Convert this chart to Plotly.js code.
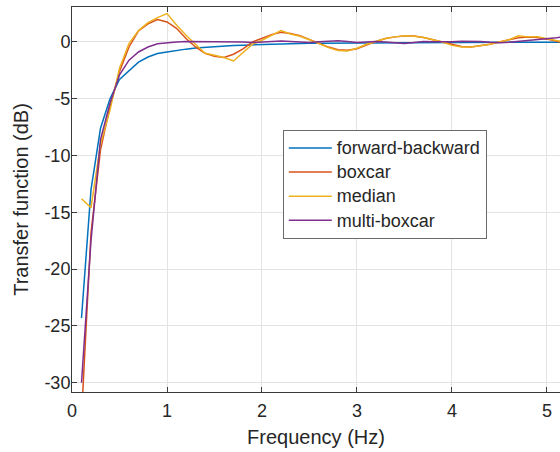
<!DOCTYPE html>
<html>
<head>
<meta charset="utf-8">
<script src="https://cdn.plot.ly/plotly-3.0.1.min.js"></script>
<style>html,body{margin:0;padding:0;background:#fff;}#chart{width:560px;height:452px;}</style>
</head>
<body>
<div id="chart"></div>
<script>
var freq = [0.1,0.2,0.3,0.4,0.5,0.6,0.7,0.8,0.9,1.0,1.1,1.2,1.3,1.4,1.5,1.6,1.7,1.8,1.9,2.0,2.1,2.2,2.3,2.4,2.5,2.6,2.7,2.8,2.9,3.0,3.1,3.2,3.3,3.4,3.5,3.6,3.7,3.8,3.9,4.0,4.1,4.2,4.3,4.4,4.5,4.6,4.7,4.8,4.9,5.0,5.1,5.2];

var forwardBackward = [-24.3,-13.0,-7.6,-5.0,-3.3,-2.5,-1.78,-1.32,-1.02,-0.88,-0.74,-0.63,-0.54,-0.47,-0.41,-0.36,-0.32,-0.28,-0.25,-0.22,-0.2,-0.18,-0.16,-0.14,-0.12,-0.11,-0.1,-0.09,-0.085,-0.08,-0.075,-0.07,-0.065,-0.06,-0.055,-0.05,-0.048,-0.045,-0.043,-0.04,-0.038,-0.036,-0.034,-0.032,-0.03,-0.028,-0.026,-0.024,-0.022,-0.02,-0.018,-0.016];

var boxcar = [-33,-16.8,-9.5,-5.7,-2.6,-0.44,0.97,1.6,1.97,1.76,1.2,0.3,-0.44,-1.0,-1.26,-1.37,-1.08,-0.6,0.0,0.35,0.65,0.85,0.75,0.55,0.2,-0.15,-0.45,-0.68,-0.73,-0.6,-0.25,0.05,0.3,0.45,0.53,0.52,0.4,0.2,0.05,-0.2,-0.4,-0.44,-0.35,-0.2,0.0,0.2,0.38,0.44,0.4,0.25,0.05,-0.1];

var median = [-13.8,-14.6,-9.0,-6.0,-2.3,-0.15,1.0,1.7,2.15,2.5,1.5,0.6,-0.2,-1.0,-1.17,-1.37,-1.67,-0.9,-0.2,0.15,0.6,1.0,0.7,0.5,0.2,-0.15,-0.5,-0.75,-0.8,-0.55,-0.2,0.05,0.3,0.45,0.55,0.5,0.4,0.2,0.0,-0.3,-0.45,-0.45,-0.35,-0.2,0.0,0.2,0.55,0.45,0.45,0.3,0.1,-0.05];

var multiBoxcar = [-30.0,-17.5,-8.6,-5.4,-2.9,-1.6,-0.88,-0.44,-0.15,-0.05,0.0,0.05,0.05,0.02,0.03,0.0,0.05,0.0,-0.05,0.0,0.05,0.08,0.05,0.0,-0.05,0.02,0.05,0.1,0.05,-0.05,0.0,0.05,0.0,-0.08,-0.14,-0.05,0.05,0.02,0.0,0.03,0.06,0.08,0.04,-0.02,-0.06,-0.02,0.06,0.14,0.18,0.24,0.38,0.5];

var seriesNames = ["forward-backward","boxcar","median","multi-boxcar"];
var yTicks = [-30,-25,-20,-15,-10,-5,0];
var xTicks = [0,1,2,3,4,5];

var colors = ["#0072BD","#D95319","#EDB120","#7E2F8E"];
var seriesData = [forwardBackward, boxcar, median, multiBoxcar];

var traces = seriesData.map(function(d, i){
  return {x: freq, y: d, type: "scatter", mode: "lines",
          name: '<span style="font-size:18px">' + seriesNames[i] + '</span>',
          line: {color: colors[i], width: 1.5}};
});

var font = "Liberation Sans, Arial, Helvetica, sans-serif";
var layout = {
  width: 560, height: 452,
  margin: {l: 72, r: 0, t: 7, b: 60},
  paper_bgcolor: "#fff", plot_bgcolor: "#fff",
  font: {family: font, color: "#262626", size: 18},
  showlegend: true,
  legend: {x: 0.432, y: 0.6805, xanchor: "left", yanchor: "top",
           bgcolor: "#fff", bordercolor: "#6a6a6a", borderwidth: 1,
           font: {family: font, size: 16.2, color: "#262626"}, itemwidth: 43},
  xaxis: {range: [0, 5.137], tickvals: xTicks, ticktext: xTicks.map(String),
          showgrid: true, gridcolor: "#e3e3e3", gridwidth: 1,
          zeroline: false, showline: true, linecolor: "#3a3a3a", linewidth: 1,
          mirror: "ticks", ticks: "inside", ticklen: 5, tickcolor: "#3a3a3a",
          ticklabelstandoff: 2,
          tickfont: {family: font, size: 18, color: "#262626"},
          title: {text: "Frequency (Hz)", font: {family: font, size: 20, color: "#262626"}, standoff: 10}},
  yaxis: {range: [-30.82, 3.08], tickvals: yTicks, ticktext: yTicks.map(String),
          showgrid: true, gridcolor: "#e3e3e3", gridwidth: 1,
          zeroline: false, showline: true, linecolor: "#3a3a3a", linewidth: 1,
          mirror: false, ticks: "inside", ticklen: 5, tickcolor: "#3a3a3a",
          ticklabelstandoff: -3,
          tickfont: {family: font, size: 18, color: "#262626"},
          title: {text: "Transfer function (dB)", font: {family: font, size: 20, color: "#262626"}, standoff: 10}}
};

Plotly.newPlot("chart", traces, layout, {displayModeBar: false, staticPlot: true});
</script>
</body>
</html>
